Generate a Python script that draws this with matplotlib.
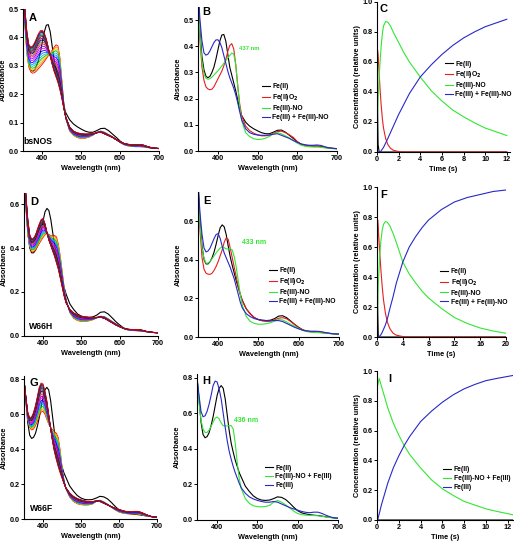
import numpy as np
import matplotlib
matplotlib.use("Agg")
import matplotlib.pyplot as plt
from matplotlib.ticker import FormatStrFormatter

plt.rcParams['font.family'] = ['Liberation Sans', 'DejaVu Sans']
plt.rcParams['font.weight'] = 'bold'
plt.rcParams['axes.linewidth'] = 0.8

# ---------------- data ----------------
wl = [350, 355, 360, 365, 370, 375, 380, 385, 390, 395, 400, 405, 410, 415, 420,
      425, 430, 435, 440, 445, 450, 455, 460, 470, 480, 490, 500, 510, 520, 530,
      540, 550, 560, 570, 580, 590, 600, 610, 620, 630, 640, 650, 660, 670, 680,
      690, 700]

# bsNOS (panel B)
b_fe2 = [0.62, 0.46, 0.36, 0.31, 0.285, 0.28, 0.285, 0.30, 0.32, 0.35, 0.385, 0.42, 0.443, 0.445, 0.42,
         0.37, 0.32, 0.29, 0.26, 0.23, 0.195, 0.16, 0.135, 0.11, 0.095, 0.085, 0.077, 0.07, 0.066, 0.066,
         0.072, 0.079, 0.08, 0.072, 0.06, 0.048, 0.035, 0.025, 0.021, 0.02, 0.019, 0.019, 0.017, 0.014, 0.012,
         0.01, 0.009]
b_fe2o2 = [0.6, 0.42, 0.32, 0.27, 0.245, 0.237, 0.234, 0.236, 0.245, 0.26, 0.275, 0.29, 0.305, 0.325, 0.35,
           0.38, 0.403, 0.41, 0.39, 0.33, 0.25, 0.18, 0.135, 0.095, 0.078, 0.068, 0.062, 0.058, 0.058, 0.061,
           0.068, 0.074, 0.076, 0.07, 0.062, 0.052, 0.036, 0.026, 0.021, 0.019, 0.018, 0.018, 0.016, 0.013, 0.011,
           0.01, 0.009]
b_no = [0.6, 0.44, 0.34, 0.295, 0.278, 0.274, 0.276, 0.282, 0.29, 0.298, 0.306, 0.315, 0.325, 0.335, 0.345,
        0.355, 0.365, 0.374, 0.37, 0.33, 0.25, 0.17, 0.115, 0.07, 0.055, 0.047, 0.044, 0.045, 0.049, 0.056,
        0.066, 0.07, 0.066, 0.058, 0.05, 0.04, 0.03, 0.022, 0.018, 0.016, 0.015, 0.015, 0.014, 0.012, 0.01,
        0.009, 0.008]
b_fe3 = [0.62, 0.5, 0.42, 0.375, 0.366, 0.37, 0.382, 0.398, 0.414, 0.424, 0.425, 0.415, 0.395, 0.365, 0.335,
         0.305, 0.28, 0.26, 0.24, 0.215, 0.185, 0.15, 0.12, 0.085, 0.07, 0.064, 0.061, 0.06, 0.06, 0.061,
         0.064, 0.066, 0.06, 0.054, 0.048, 0.04, 0.033, 0.027, 0.024, 0.022, 0.022, 0.023, 0.021, 0.016, 0.012,
         0.01, 0.009]

# W66H (panel E)
e_fe2 = [0.8, 0.6, 0.47, 0.4, 0.378, 0.378, 0.39, 0.41, 0.44, 0.48, 0.525, 0.565, 0.58, 0.57, 0.53,
         0.47, 0.415, 0.37, 0.33, 0.29, 0.255, 0.22, 0.19, 0.145, 0.12, 0.1, 0.09, 0.086, 0.085, 0.087,
         0.095, 0.108, 0.11, 0.1, 0.083, 0.065, 0.05, 0.037, 0.031, 0.028, 0.026, 0.025, 0.023, 0.02, 0.018,
         0.016, 0.015]
e_fe2o2 = [0.78, 0.55, 0.41, 0.35, 0.33, 0.325, 0.324, 0.33, 0.345, 0.365, 0.39, 0.42, 0.45, 0.49, 0.513,
           0.505, 0.46, 0.41, 0.36, 0.31, 0.26, 0.22, 0.185, 0.145, 0.118, 0.1, 0.09, 0.083, 0.08, 0.082,
           0.088, 0.097, 0.1, 0.094, 0.08, 0.064, 0.048, 0.036, 0.03, 0.027, 0.025, 0.024, 0.022, 0.02, 0.018,
           0.016, 0.015]
e_no = [0.78, 0.58, 0.46, 0.405, 0.382, 0.382, 0.39, 0.405, 0.42, 0.435, 0.448, 0.46, 0.466, 0.462, 0.456,
        0.455, 0.457, 0.45, 0.415, 0.36, 0.29, 0.22, 0.165, 0.105, 0.08, 0.07, 0.066, 0.066, 0.069, 0.074,
        0.082, 0.09, 0.088, 0.078, 0.066, 0.055, 0.044, 0.034, 0.028, 0.025, 0.024, 0.023, 0.021, 0.019, 0.017,
        0.015, 0.014]
e_fe3 = [0.8, 0.64, 0.53, 0.46, 0.44, 0.445, 0.46, 0.485, 0.51, 0.53, 0.535, 0.51, 0.47, 0.435, 0.41,
         0.385, 0.36, 0.33, 0.3, 0.26, 0.22, 0.18, 0.15, 0.12, 0.105, 0.095, 0.09, 0.087, 0.085, 0.084,
         0.085, 0.085, 0.08, 0.07, 0.06, 0.05, 0.042, 0.035, 0.031, 0.03, 0.03, 0.029, 0.026, 0.021, 0.018,
         0.016, 0.015]

# W66F (panel H)
h_fe2 = [0.8, 0.68, 0.55, 0.48, 0.462, 0.468, 0.49, 0.53, 0.58, 0.64, 0.7, 0.74, 0.755, 0.74, 0.68,
         0.59, 0.5, 0.43, 0.38, 0.335, 0.3, 0.265, 0.24, 0.19, 0.16, 0.135, 0.12, 0.112, 0.11, 0.112,
         0.12, 0.13, 0.127, 0.115, 0.095, 0.072, 0.052, 0.04, 0.034, 0.03, 0.027, 0.025, 0.022, 0.018, 0.015,
         0.012, 0.01]
h_no = [0.8, 0.66, 0.56, 0.51, 0.492, 0.492, 0.505, 0.525, 0.55, 0.572, 0.578, 0.568, 0.545, 0.53, 0.528,
        0.528, 0.53, 0.53, 0.51, 0.43, 0.32, 0.23, 0.175, 0.12, 0.093, 0.08, 0.075, 0.074, 0.076, 0.082,
        0.1, 0.11, 0.1, 0.085, 0.068, 0.05, 0.036, 0.03, 0.027, 0.026, 0.025, 0.024, 0.021, 0.017, 0.014,
        0.011, 0.01]
h_fe3 = [0.8, 0.7, 0.61, 0.58, 0.585, 0.61, 0.65, 0.7, 0.755, 0.78, 0.775, 0.735, 0.68, 0.6, 0.52,
         0.445, 0.385, 0.34, 0.3, 0.265, 0.235, 0.205, 0.18, 0.15, 0.13, 0.118, 0.11, 0.104, 0.1, 0.1,
         0.104, 0.1, 0.09, 0.08, 0.07, 0.062, 0.055, 0.048, 0.043, 0.041, 0.044, 0.044, 0.037, 0.027, 0.018,
         0.012, 0.01]

# share of the end species in each recorded trace of panels A, D, G
frac_A = [0.0, 0.06, 0.12, 0.18, 0.25, 0.32, 0.39, 0.46, 0.53, 0.6, 0.66, 0.72, 0.77, 0.82, 0.86, 0.9, 0.94, 0.97, 1.0]
frac_D = [0.0, 0.06, 0.12, 0.18, 0.25, 0.32, 0.39, 0.46, 0.53, 0.6, 0.66, 0.72, 0.77, 0.82, 0.86, 0.9, 0.94, 0.97, 1.0]
frac_G = [0.2, 0.25, 0.3, 0.35, 0.4, 0.46, 0.52, 0.58, 0.63, 0.68, 0.73, 0.77, 0.81, 0.85, 0.88, 0.91, 0.94, 0.97, 1.0]
trace_colors = ['#ff0000', '#ff8000', '#e0d000', '#00c000', '#00c0c0', '#0080ff', '#0000ff', '#ff00ff',
                '#8000ff', '#ff0080', '#808000', '#000080', '#800080', '#800000', '#404040', '#008080',
                '#202060', '#500050', '#e00000']

# kinetics
t_c = [0, 0.05, 0.1, 0.2, 0.3, 0.4, 0.5, 0.6, 0.8, 1.0, 1.25, 1.5, 2, 2.5, 3, 4, 5, 6, 7, 8, 9, 10, 11, 12]
c_fe2 = [1.0, 0.3, 0.05, 0.0, 0, 0, 0, 0, 0, 0, 0, 0, 0, 0, 0, 0, 0, 0, 0, 0, 0, 0, 0, 0]
c_fe2o2 = [0, 0.68, 0.65, 0.52, 0.4, 0.3, 0.22, 0.16, 0.09, 0.05, 0.025, 0.012, 0.003, 0, 0, 0, 0, 0, 0, 0, 0, 0, 0, 0]
c_no = [0, 0.25, 0.35, 0.5, 0.62, 0.72, 0.79, 0.84, 0.87, 0.865, 0.84, 0.8, 0.73, 0.66, 0.6, 0.5, 0.41,
        0.34, 0.28, 0.235, 0.195, 0.16, 0.135, 0.11]
c_fe3 = [0, 0, 0, 0, 0, 0.01, 0.02, 0.03, 0.06, 0.09, 0.13, 0.17, 0.25, 0.32, 0.39, 0.5, 0.58, 0.65,
         0.71, 0.76, 0.8, 0.835, 0.86, 0.885]

t_f = [0, 0.1, 0.2, 0.4, 0.6, 0.8, 1.0, 1.3, 1.6, 2, 2.5, 3, 4, 5, 6, 7, 8, 10, 12, 14, 16, 18, 20]
f_fe2 = [1.0, 0.2, 0, 0, 0, 0, 0, 0, 0, 0, 0, 0, 0, 0, 0, 0, 0, 0, 0, 0, 0, 0, 0]
f_fe2o2 = [0, 0.78, 0.72, 0.58, 0.45, 0.34, 0.25, 0.16, 0.1, 0.055, 0.025, 0.012, 0.003, 0, 0, 0, 0, 0, 0, 0, 0, 0, 0]
f_no = [0, 0.2, 0.35, 0.53, 0.64, 0.71, 0.75, 0.77, 0.765, 0.74, 0.69, 0.63, 0.5, 0.42, 0.36, 0.305,
        0.26, 0.19, 0.13, 0.09, 0.06, 0.04, 0.025]
f_fe3 = [0, 0, 0, 0.005, 0.015, 0.03, 0.05, 0.08, 0.12, 0.19, 0.27, 0.36, 0.5, 0.6, 0.67, 0.73, 0.78,
         0.85, 0.9, 0.93, 0.95, 0.97, 0.98]

t_i = [0, 0.05, 0.2, 0.4, 0.6, 0.8, 1, 1.5, 2, 2.5, 3, 4, 5, 6, 7, 8, 9, 10, 11, 12.5]
i_fe2 = [0.28, 0, 0, 0, 0, 0, 0, 0, 0, 0, 0, 0, 0, 0, 0, 0, 0, 0, 0, 0]
i_no = [0.72, 0.9, 0.95, 0.9, 0.85, 0.8, 0.75, 0.65, 0.57, 0.5, 0.44, 0.35, 0.27, 0.21, 0.165, 0.125,
        0.1, 0.075, 0.058, 0.035]
i_fe3 = [0, 0, 0.04, 0.1, 0.15, 0.2, 0.25, 0.35, 0.43, 0.5, 0.56, 0.66, 0.73, 0.79, 0.84, 0.88, 0.91,
         0.935, 0.95, 0.97]

BLACK, RED, GREEN, BLUE = '#000000', '#e62020', '#33e633', '#2828c8'
labels4 = ['Fe(II)', r'Fe(II)O$_\mathbf{2}$', 'Fe(III)-NO', 'Fe(III) + Fe(III)-NO']
labels3 = ['Fe(II)', 'Fe(III)-NO + Fe(III)', 'Fe(III)']

# ---------------- layout ----------------
W, H = 514, 542
fig = plt.figure(figsize=(W / 100, H / 100), dpi=100)


def add_ax(x0, x1, y0, y1):
    return fig.add_axes([x0 / W, 1 - y1 / H, (x1 - x0) / W, (y1 - y0) / H])


def style(ax, letter, lx, ly):
    for s in ['top', 'right']:
        ax.spines[s].set_visible(False)
    ax.tick_params(direction='out', length=2, width=0.7, labelsize=5.2, pad=1)
    for lab in ax.get_xticklabels() + ax.get_yticklabels():
        lab.set_fontweight('bold')
    ax.yaxis.set_major_formatter(FormatStrFormatter('%.1f'))
    ax.text(lx, ly, letter, transform=ax.transAxes, fontsize=8, fontweight='bold',
            ha='left', va='center')


def spectra_ax(ax, letter, lx, ly, ymax, yticks):
    ax.set_xlim(350, 700)
    ax.set_ylim(0, ymax)
    ax.set_xticks([400, 500, 600, 700])
    ax.set_yticks(yticks)
    ax.set_xlabel('Wavelength (nm)', fontsize=5.3, fontweight='bold', labelpad=2)
    ax.set_ylabel('Absorbance', fontsize=5.3, fontweight='bold', labelpad=1.5)
    style(ax, letter, lx, ly)


def kin_ax(ax, letter, lx, ly, xmax, xticks):
    ax.set_xlim(0, xmax)
    ax.set_ylim(0, 1.0)
    ax.set_xticks(xticks)
    ax.set_yticks([0, 0.2, 0.4, 0.6, 0.8, 1.0])
    ax.set_xlabel('Time (s)', fontsize=5.3, fontweight='bold', labelpad=2)
    ax.set_ylabel('Concentration (relative units)', fontsize=5.3, fontweight='bold', labelpad=1.5)
    style(ax, letter, lx, ly)


def legend(ax, x, y):
    leg = ax.legend(loc='upper left', bbox_to_anchor=(x, y), frameon=False, fontsize=4.9,
                    handlelength=1.2, handletextpad=0.35, labelspacing=0.28, borderpad=0,
                    borderaxespad=0)
    for t in leg.get_texts():
        t.set_fontweight('bold')


lw = 0.8
# row 1
axA = add_ax(23, 159, 9, 151)
axA.plot(wl, b_fe2, color=BLACK, lw=lw)
for f, c in zip(frac_A, trace_colors):
    axA.plot(wl, (1 - f) * np.array(b_no) + f * np.array(b_fe3), color=c, lw=0.6)
spectra_ax(axA, 'A', 0.04, 0.94, 0.5, [0, 0.1, 0.2, 0.3, 0.4, 0.5])
axA.text(0.0, 0.065, 'bsNOS', transform=axA.transAxes, fontsize=6.2, fontweight='bold', va='center')

axB = add_ax(198, 337, 7, 151)
for y, c, l in zip([b_fe2, b_fe2o2, b_no, b_fe3], [BLACK, RED, GREEN, BLUE], labels4):
    axB.plot(wl, y, color=c, lw=lw, label=l)
spectra_ax(axB, 'B', 0.03, 0.965, 0.55, [0, 0.1, 0.2, 0.3, 0.4, 0.5])
axB.text(453, 0.39, '437 nm', color=GREEN, fontsize=4.2, fontweight='bold', va='center')
legend(axB, 0.46, 0.47)

axC = add_ax(377, 510, 2, 152)
for t, y, c, l in zip([t_c] * 4, [c_fe2, c_fe2o2, c_no, c_fe3], [BLACK, RED, GREEN, BLUE], labels4):
    axC.plot(t, y, color=c, lw=lw, label=l)
kin_ax(axC, 'C', 0.02, 0.95, 12.3, [0, 2, 4, 6, 8, 10, 12])
legend(axC, 0.51, 0.61)

# row 2
axD = add_ax(24, 158, 193, 336)
axD.plot(wl, e_fe2, color=BLACK, lw=lw)
for f, c in zip(frac_D, trace_colors):
    axD.plot(wl, (1 - f) * np.array(e_no) + f * np.array(e_fe3), color=c, lw=0.6)
spectra_ax(axD, 'D', 0.045, 0.94, 0.65, [0, 0.2, 0.4, 0.6])
axD.text(0.04, 0.063, 'W66H', transform=axD.transAxes, fontsize=6.2, fontweight='bold', va='center')

axE = add_ax(198, 339, 192, 337)
for y, c, l in zip([e_fe2, e_fe2o2, e_no, e_fe3], [BLACK, RED, GREEN, BLUE], labels4):
    axE.plot(wl, y, color=c, lw=lw, label=l)
spectra_ax(axE, 'E', 0.035, 0.94, 0.75, [0, 0.2, 0.4, 0.6])
axE.text(458, 0.49, '433 nm', color=GREEN, fontsize=5, fontweight='bold', va='center')
legend(axE, 0.5, 0.48)

axF = add_ax(377, 506, 187, 337)
for y, c, l in zip([f_fe2, f_fe2o2, f_no, f_fe3], [BLACK, RED, GREEN, BLUE], labels4):
    axF.plot(t_f, y, color=c, lw=lw, label=l)
kin_ax(axF, 'F', 0.025, 0.95, 20, [0, 4, 8, 12, 16, 20])
legend(axF, 0.49, 0.46)

# row 3
axG = add_ax(24, 157, 376, 519)
axG.plot(wl, h_fe2, color=BLACK, lw=lw)
for f, c in zip(frac_G, trace_colors):
    axG.plot(wl, (1 - f) * np.array(h_no) + f * np.array(h_fe3), color=c, lw=0.6)
spectra_ax(axG, 'G', 0.04, 0.95, 0.82, [0, 0.2, 0.4, 0.6, 0.8])
axG.text(0.045, 0.07, 'W66F', transform=axG.transAxes, fontsize=6.2, fontweight='bold', va='center')

axH = add_ax(197, 338, 374, 520)
for y, c, l in zip([h_fe2, h_no, h_fe3], [BLACK, GREEN, BLUE], labels3):
    axH.plot(wl, y, color=c, lw=lw, label=l)
spectra_ax(axH, 'H', 0.035, 0.955, 0.82, [0, 0.2, 0.4, 0.6, 0.8])
axH.text(441, 0.56, '436 nm', color=GREEN, fontsize=5, fontweight='bold', va='center')
legend(axH, 0.48, 0.38)

axI = add_ax(377, 513, 371, 520)
for y, c, l in zip([i_fe2, i_no, i_fe3], [BLACK, GREEN, BLUE], labels3):
    axI.plot(t_i, y, color=c, lw=lw, label=l)
kin_ax(axI, 'I', 0.08, 0.946, 12.5, [0, 2, 4, 6, 8, 10, 12])
legend(axI, 0.485, 0.36)

fig.savefig('out.png', dpi=100)
